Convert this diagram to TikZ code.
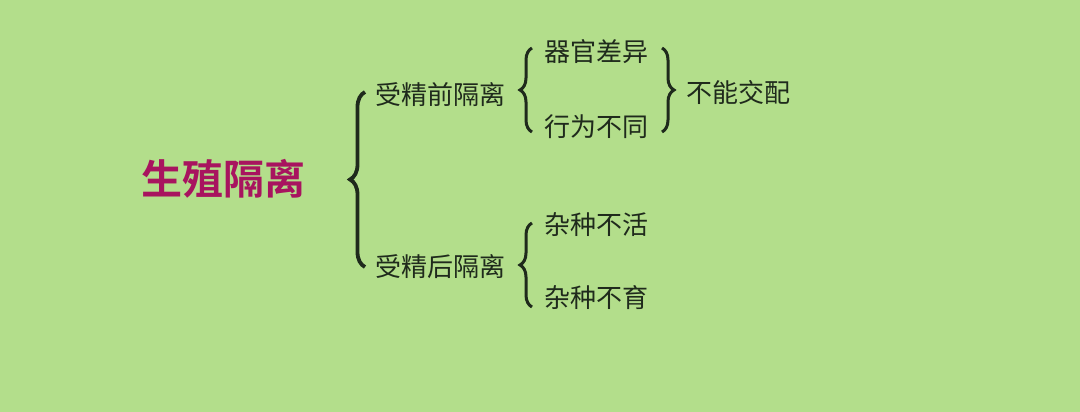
\documentclass[tikz,border=0pt]{standalone}
\usepackage{fontspec}
\setmainfont{Noto Sans CJK SC}
\newfontfamily\cjk{Noto Sans CJK SC}
\newfontfamily\cjkb{Noto Sans CJK SC Bold}
\usetikzlibrary{decorations.pathreplacing}
\definecolor{bg}{HTML}{B3DE8B}
\definecolor{ink}{HTML}{1F2A1C}
\definecolor{mag}{HTML}{A8145F}
\begin{document}
\begin{tikzpicture}[x=1pt,y=1pt,
  lbl/.style={font=\cjk\fontsize{26}{26}\selectfont, text=ink, inner sep=0pt, anchor=west},
  bigbrace/.style={draw=ink, line width=3.8pt, decorate, decoration={brace, amplitude=15pt, aspect=0.5}},
  smallbrace/.style={draw=ink, line width=3pt, decorate, decoration={brace, amplitude=12pt, aspect=0.5}}]
\fill[bg] (0,0) rectangle (1080,-412);
\useasboundingbox (0,0) rectangle (1080,-412);
\node (title) [font=\cjkb\fontsize{41}{41}\selectfont, text=mag, inner sep=0pt, anchor=west] at (141,-179) {生殖隔离};
% level 1
\node (pre) [lbl] at (375,-95) {受精前隔离};
\node (post) [lbl] at (375,-267) {受精后隔离};
% level 2
\node (a1) [lbl] at (544,-52) {器官差异};
\node (a2) [lbl] at (544,-127) {行为不同};
\node (b1) [lbl] at (544,-225) {杂种不活};
\node (b2) [lbl] at (544,-298) {杂种不育};
\node (res) [lbl] at (686,-93) {不能交配};
% brace anchors
\coordinate (B0s) at (365,-267);
\coordinate (B0e) at (365,-92);
\coordinate (B1s) at (532,-132);
\coordinate (B1e) at (532,-48);
\coordinate (B2s) at (532,-307);
\coordinate (B2e) at (532,-223);
\coordinate (B3s) at (662,-48);
\coordinate (B3e) at (662,-132);
\draw[bigbrace] (B0s) -- (B0e);
\draw[smallbrace] (B1s) -- (B1e);
\draw[smallbrace] (B2s) -- (B2e);
\draw[smallbrace] (B3s) -- (B3e);
\end{tikzpicture}
\end{document}
